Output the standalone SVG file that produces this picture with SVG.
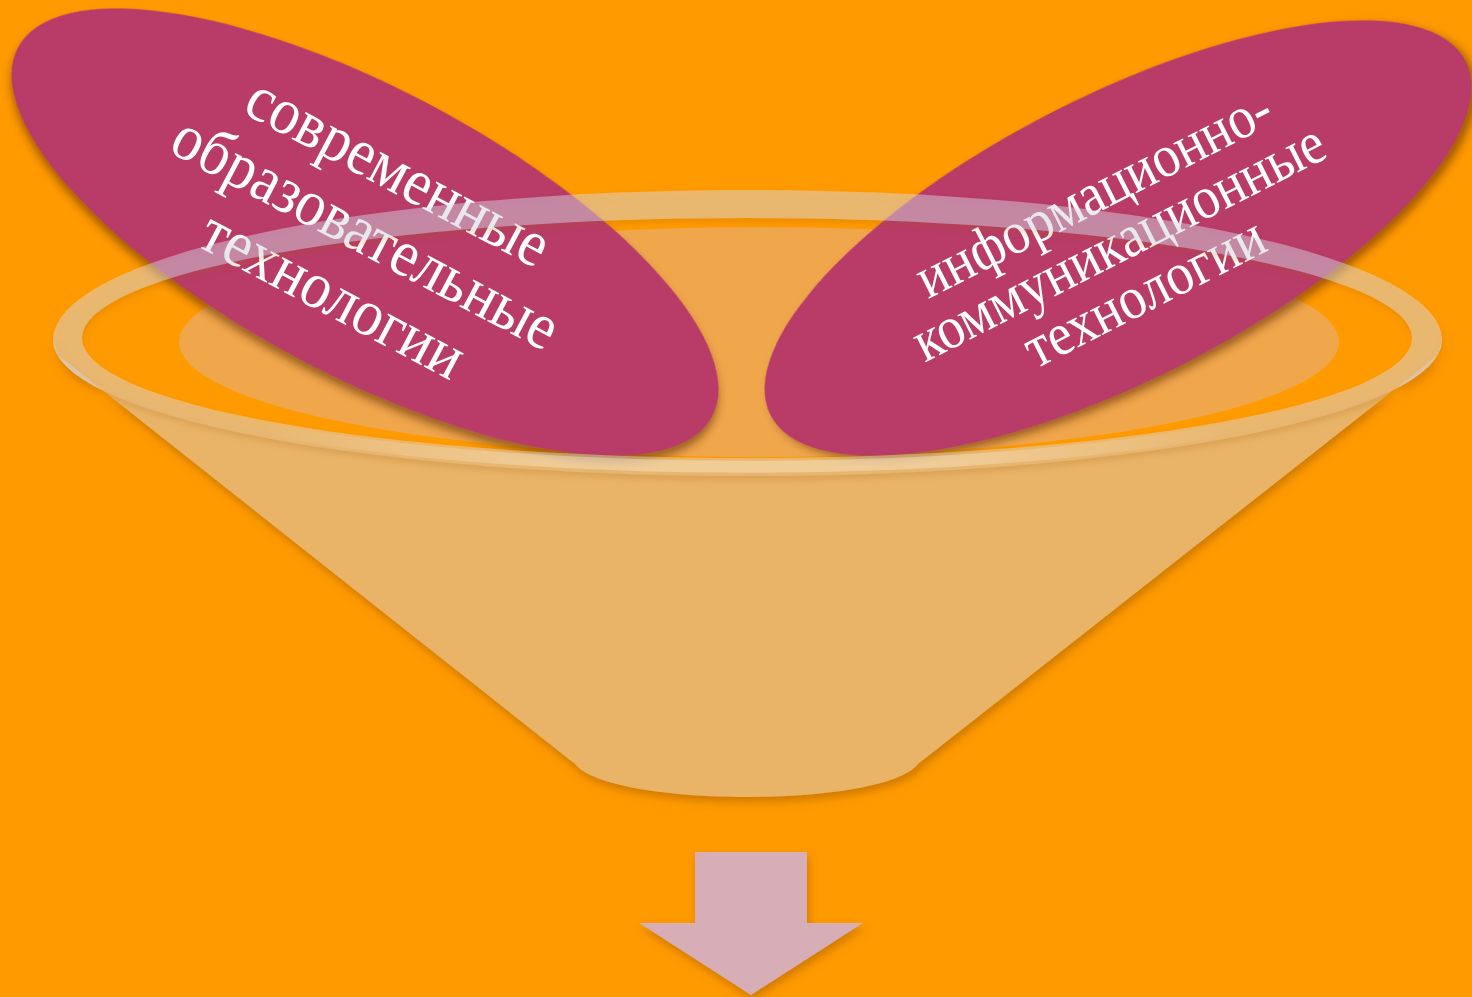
<svg xmlns="http://www.w3.org/2000/svg" width="1472" height="997" viewBox="0 0 1472 997">
  <defs>
    <style>
      .bg { fill: #FF9A00; }
      .interior { fill: #F0A64B; }
      .cone { fill: #E9B467; }
      .ring { fill: rgba(216,220,230,0.45); }
      .glow { fill: none; stroke: url(#glowgrad); stroke-width: 12; }
      .blob { fill: #B83A67; }
      .lbl { font-family: "Liberation Serif", "Times New Roman", serif; fill: #FFFFFF; text-anchor: middle; }
      .arrow { fill: #D7ADB6; }
    </style>
    <linearGradient id="glowgrad" gradientUnits="userSpaceOnUse" x1="250" y1="0" x2="1245" y2="0">
      <stop offset="0" stop-color="#FFF3E0" stop-opacity="0"/>
      <stop offset="0.3" stop-color="#FFF3E0" stop-opacity="0.35"/>
      <stop offset="0.7" stop-color="#FFF3E0" stop-opacity="0.35"/>
      <stop offset="1" stop-color="#FFF3E0" stop-opacity="0"/>
    </linearGradient>
    <filter id="shadow" x="-10%" y="-10%" width="120%" height="130%">
      <feDropShadow dx="3" dy="6" stdDeviation="4" flood-color="#5A2A00" flood-opacity="0.55"/>
    </filter>
    <filter id="softshadow" x="-10%" y="-10%" width="120%" height="130%">
      <feDropShadow dx="2" dy="5" stdDeviation="4" flood-color="#A05A00" flood-opacity="0.5"/>
    </filter>
    <filter id="ringshadow" x="-5%" y="-10%" width="110%" height="130%">
      <feGaussianBlur in="SourceAlpha" stdDeviation="3"/>
      <feOffset dx="1" dy="4" result="blur"/>
      <feFlood flood-color="#A05A00" flood-opacity="0.45"/>
      <feComposite in2="blur" operator="in"/>
      <feComposite in2="SourceAlpha" operator="out" result="sh"/>
      <feMerge>
        <feMergeNode in="sh"/>
        <feMergeNode in="SourceGraphic"/>
      </feMerge>
    </filter>
  </defs>

  <rect class="bg" x="0" y="0" width="1472" height="997"/>

  <g id="funnel-body">
    <ellipse class="interior" cx="759" cy="342" rx="580" ry="115"/>
    <path class="cone" filter="url(#softshadow)" d="M 58,355 L 575,764 C 610,808 884,808 918,764 L 1438,355 L 1442,340 A 694 136 0 0 1 53,340 Z"/>
  </g>

  <g id="node-left">
    <ellipse class="blob" filter="url(#shadow)" cx="365" cy="232" rx="393" ry="143" transform="rotate(28 365 232)"/>
    <g transform="translate(363,238) rotate(28) scale(0.9,1)">
      <text class="lbl" font-size="66" x="0" y="-54">современные</text>
      <text class="lbl" font-size="66" x="0" y="15">образовательные</text>
      <text class="lbl" font-size="66" x="0" y="85">технологии</text>
    </g>
  </g>

  <g id="node-right">
    <ellipse class="blob" filter="url(#shadow)" cx="1118" cy="238" rx="390" ry="142" transform="rotate(-27 1118 238)"/>
    <g transform="translate(1121,247) rotate(-27) scale(0.9,1)">
      <text class="lbl" font-size="60" x="0" y="-41">информационно-</text>
      <text class="lbl" font-size="60" x="0" y="14">коммуникационные</text>
      <text class="lbl" font-size="60" x="0" y="70">технологии</text>
    </g>
  </g>

  <g id="funnel-rim">
    <path class="ring" filter="url(#ringshadow)" fill-rule="evenodd" d="M 53,340 A 694 150 0 0 1 1442,340 A 694 136 0 0 1 53,340 Z M 82,338 A 665 120 0 0 1 1412,338 A 665 120 0 0 1 82,338 Z"/>
    <path class="glow" d="M 250,426 A 680 128 0 0 0 1245,426"/>
  </g>

  <g id="connectors">
    <polygon class="arrow" filter="url(#softshadow)" points="695,852 807,852 807,923 863,923 751,995 639,923 695,923"/>
  </g>
</svg>
